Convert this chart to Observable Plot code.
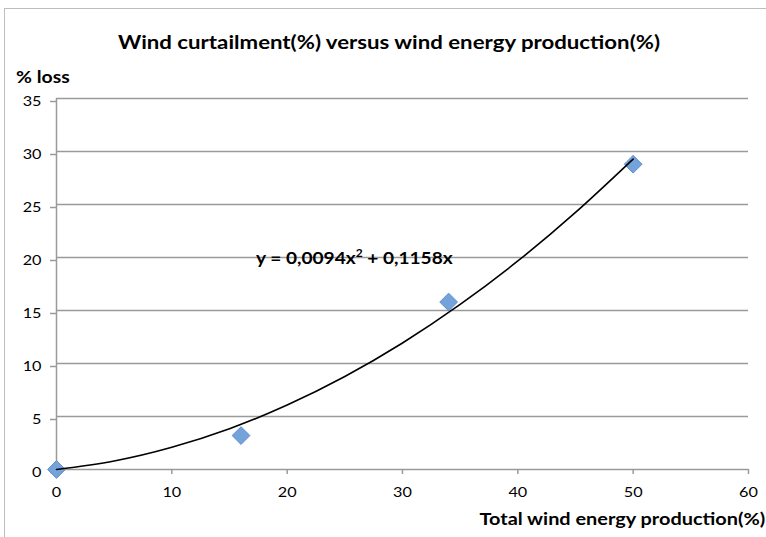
<!DOCTYPE html>
<html>
<head>
<meta charset="utf-8">
<script src="https://cdn.jsdelivr.net/npm/d3@7"></script>
<script src="https://cdn.jsdelivr.net/npm/@observablehq/plot@0.6"></script>
<style>
  html, body { margin: 0; padding: 0; background: #fff; }
  #wrap { position: relative; width: 766px; height: 537px; overflow: hidden; font-family: Lato, "Open Sans", sans-serif; }
  #border { position: absolute; left: 4px; top: 8px; width: 800px; height: 600px; border-left: 1.5px solid #bdbdbd; border-top: 1.5px solid #bdbdbd; box-sizing: border-box; }
  .lbl { position: absolute; font-weight: bold; color: #000; white-space: nowrap; line-height: 1.2; }
  #title { left: 389px; top: 31px; font-size: 18.5px; transform: translateX(-50%) scaleX(1.2); }
  #ylab { left: 16px; top: 66px; font-size: 17.5px; transform-origin: left center; transform: scaleX(1.11); }
  #xlab { right: 1px; top: 509px; font-size: 17px; transform-origin: right center; transform: scaleX(1.17); }
  #eq { left: 256px; top: 247px; font-size: 17.5px; transform-origin: left center; transform: scaleX(1.09); }
  #eq sup { font-size: 11px; vertical-align: 7px; line-height: 0; }
  #chart { position: absolute; left: 0; top: 0; }
</style>
</head>
<body>
<div id="wrap">
  <div id="border"></div>
  <div id="chart"></div>
  <div class="lbl" id="title">Wind curtailment(%) versus wind energy production(%)</div>
  <div class="lbl" id="ylab">% loss</div>
  <div class="lbl" id="xlab">Total wind energy production(%)</div>
  <div class="lbl" id="eq">y = 0,0094x<sup>2</sup> + 0,1158x</div>
</div>
<script>
// Observed data points
const production = [0, 16, 34, 50];
const loss = [0, 3.2, 15.8, 28.8];

// Trendline
const trendX = [0, 5, 10, 15, 20, 25, 30, 35, 40, 45, 50];
const trendY = [0, 0.81, 2.10, 3.85, 6.08, 8.77, 11.93, 15.57, 19.67, 24.25, 29.29];

// Tick labels
const xTicks = [0, 10, 20, 30, 40, 50, 60];
const yTicks = [0, 5, 10, 15, 20, 25, 30, 35];

const points = production.map((x, i) => ({x, y: loss[i]}));
const trend = trendX.map((x, i) => ({x, y: trendY[i]}));

const grid = "#9a9a9a";

const chart = Plot.plot({
  width: 766,
  height: 537,
  marginLeft: 56,
  marginRight: 18,
  marginTop: 98,
  marginBottom: 68,
  style: {fontFamily: "Lato, 'Open Sans', sans-serif", fontSize: "12.5px", background: "transparent", color: "#000"},
  x: {domain: [0, 60], ticks: xTicks, label: null},
  y: {domain: [0, 35], ticks: yTicks, label: null},
  marks: [
    Plot.ruleY(yTicks.filter(d => d > 0), {stroke: grid, strokeWidth: 1.5}),
    Plot.ruleY([0], {stroke: grid, strokeWidth: 1.5}),
    Plot.ruleX([0], {stroke: grid, strokeWidth: 1.5}),
    Plot.axisX({ticks: xTicks, tickSize: 5, tickPadding: 14, stroke: grid, strokeWidth: 1.5, fill: "#000", label: null}),
    Plot.axisY({ticks: yTicks, tickSize: 6, tickPadding: 9, dy: 3, stroke: grid, strokeWidth: 1.5, fill: "#000", label: null}),
    Plot.dot(points, {x: "x", y: "y", symbol: "diamond2", r: 8, fill: "#74a2da", stroke: "#5f8fcd", strokeWidth: 1}),
    Plot.line(trend, {x: "x", y: "y", curve: "natural", stroke: "#000", strokeWidth: 1.6})
  ]
});
document.getElementById("chart").appendChild(chart);

// Widen tick labels horizontally (about their anchor) to match the reference's stretched type
const SX = 1.3;
d3.select(chart).selectAll('g[aria-label$="tick label"] text').each(function() {
  const r = this.getBoundingClientRect();
  if (!r.width) return;
  const anchor = getComputedStyle(this).textAnchor;
  const cx = anchor === "end" ? r.right : anchor === "start" ? r.left : (r.left + r.right) / 2;
  const cy = (r.top + r.bottom) / 2;
  const parent = this.parentNode;
  const m = parent.getScreenCTM().inverse();
  const p = new DOMPoint(cx, cy).matrixTransform(m);
  const g = document.createElementNS("http://www.w3.org/2000/svg", "g");
  g.setAttribute("transform", `translate(${p.x},${p.y}) scale(${SX},1) translate(${-p.x},${-p.y})`);
  parent.insertBefore(g, this);
  g.appendChild(this);
});
</script>
</body>
</html>
